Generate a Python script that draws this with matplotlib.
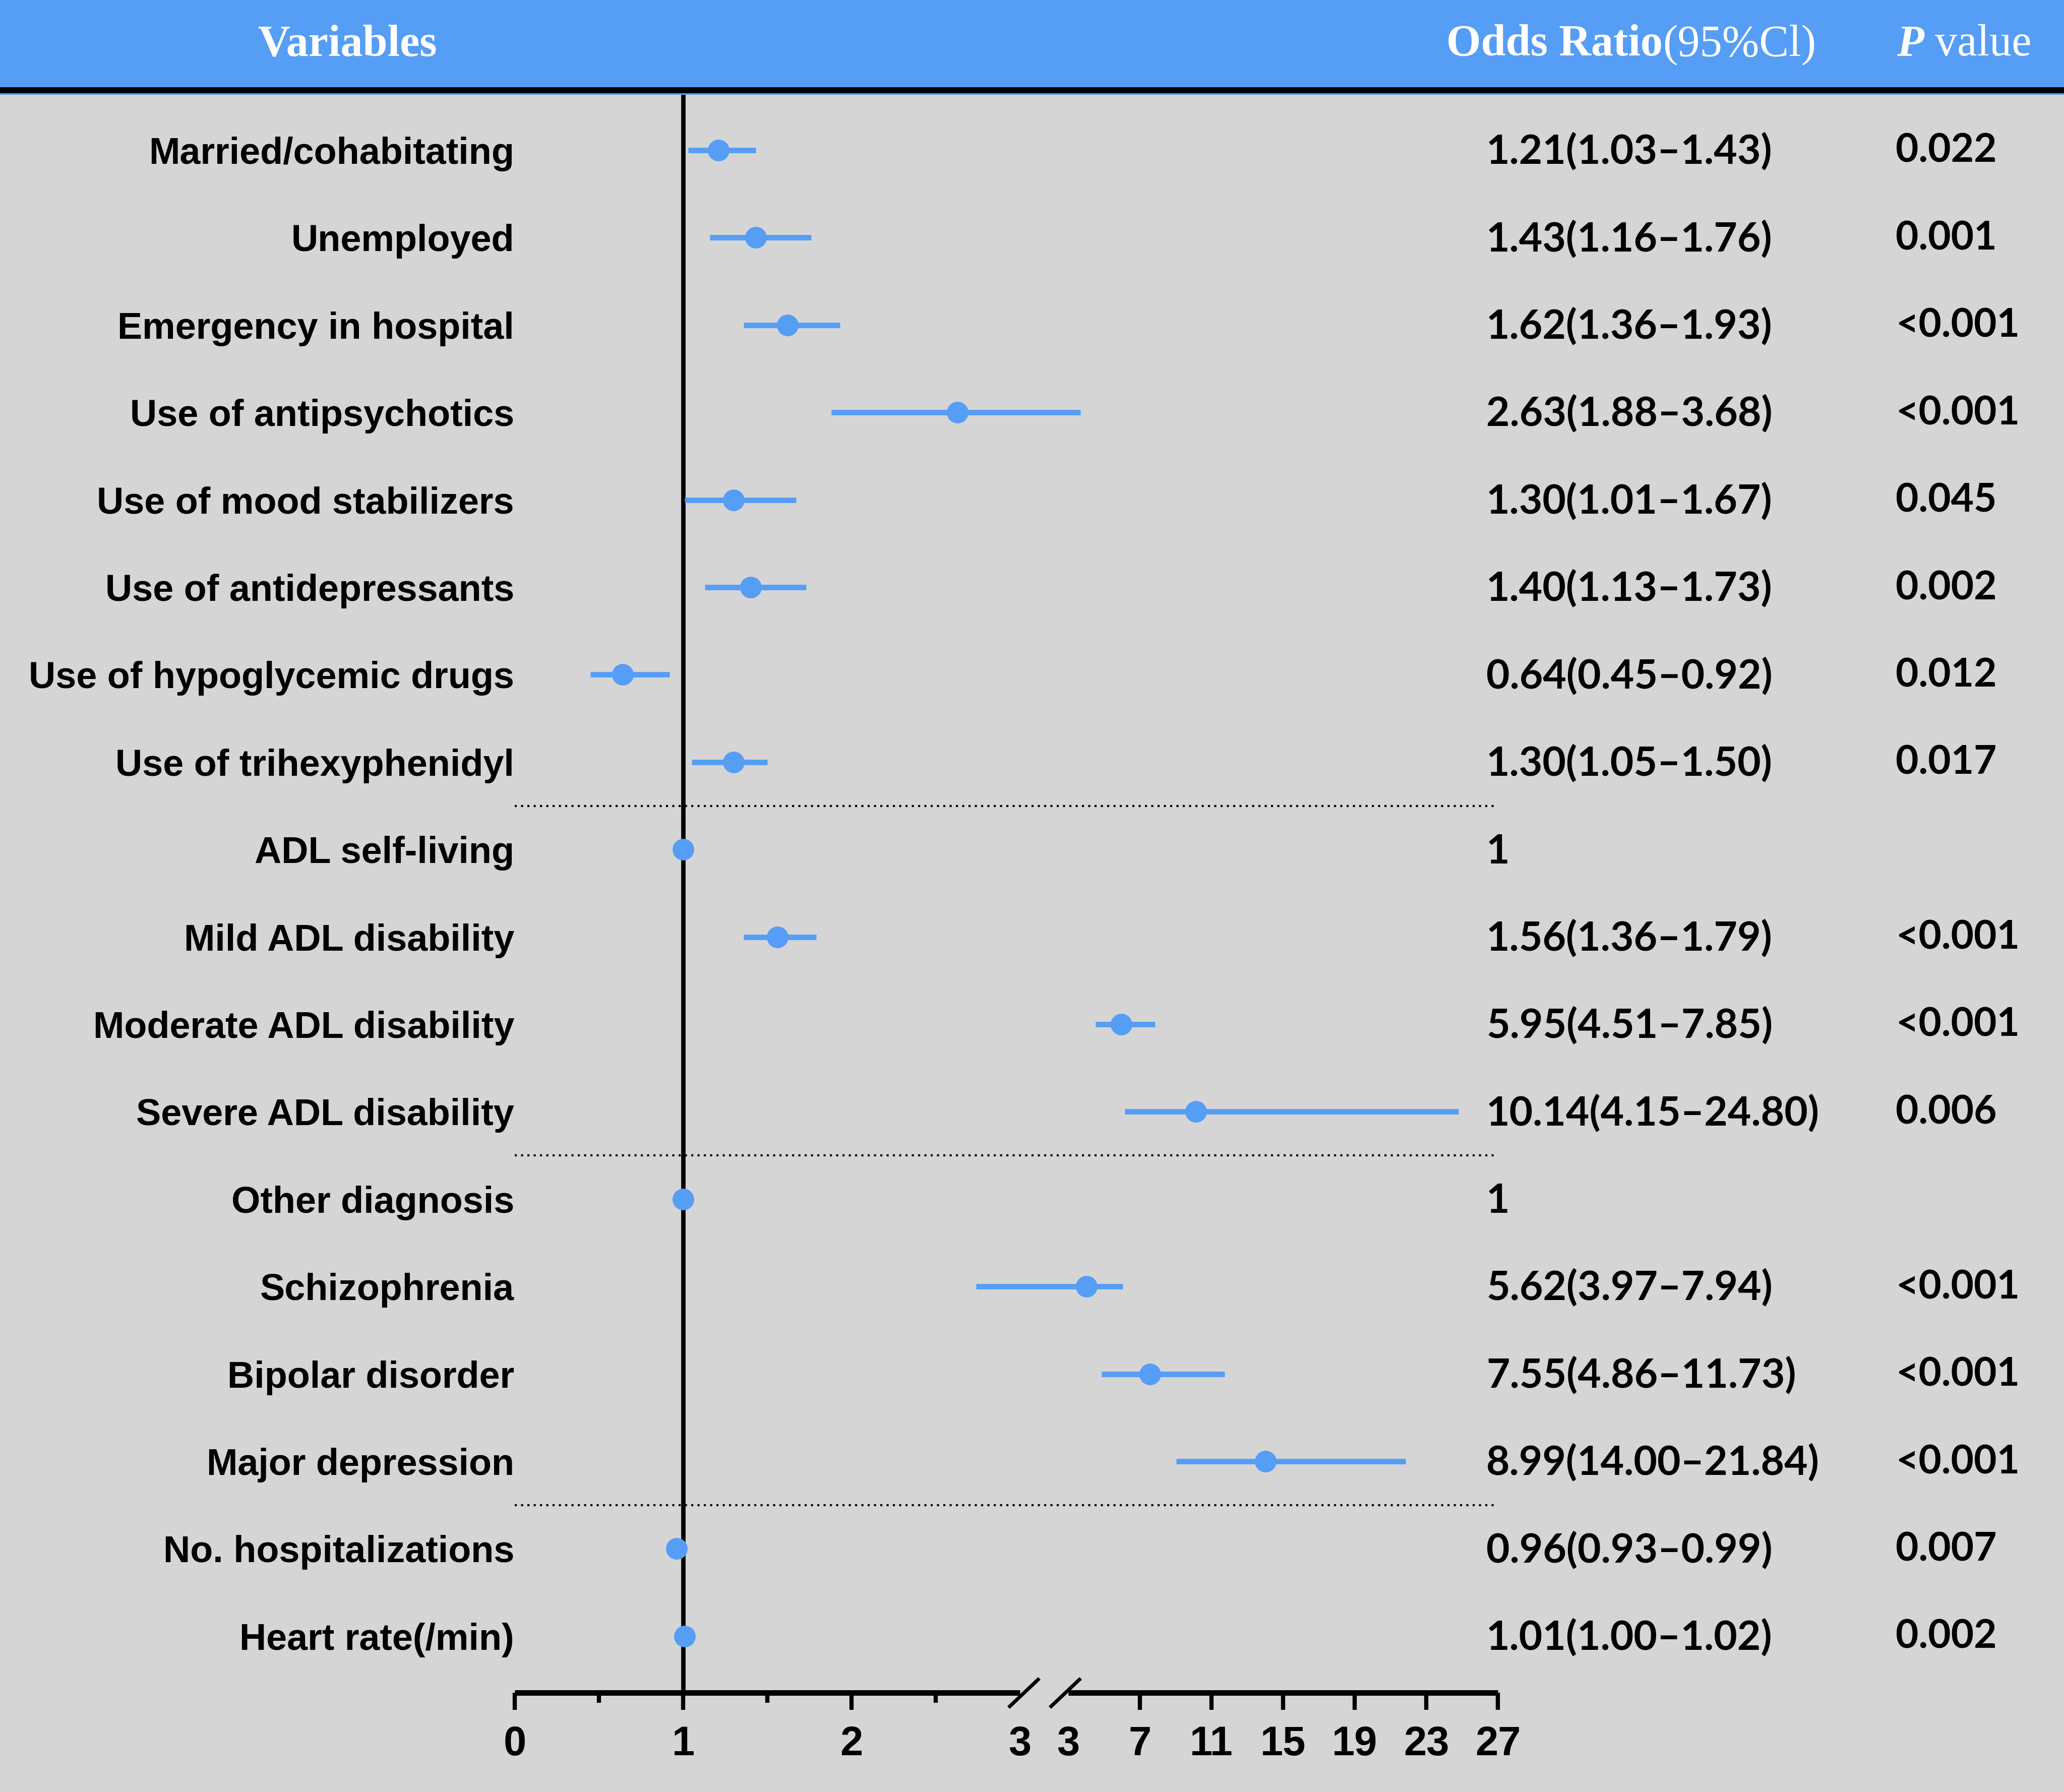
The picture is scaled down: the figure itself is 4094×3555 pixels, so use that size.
import numpy as np
import matplotlib
matplotlib.use("Agg")
import matplotlib.pyplot as plt
from matplotlib import transforms
from matplotlib.patches import Rectangle
from matplotlib.lines import Line2D

# ---------------- data ----------------
labels = ["Married/cohabitating", "Unemployed", "Emergency in hospital",
          "Use of antipsychotics", "Use of mood stabilizers", "Use of antidepressants",
          "Use of hypoglycemic drugs", "Use of trihexyphenidyl", "ADL self-living",
          "Mild ADL disability", "Moderate ADL disability", "Severe ADL disability",
          "Other diagnosis", "Schizophrenia", "Bipolar disorder", "Major depression",
          "No. hospitalizations", "Heart rate(/min)"]

or_text = ["1.21(1.03\u20131.43)", "1.43(1.16\u20131.76)", "1.62(1.36\u20131.93)",
           "2.63(1.88\u20133.68)", "1.30(1.01\u20131.67)", "1.40(1.13\u20131.73)",
           "0.64(0.45\u20130.92)", "1.30(1.05\u20131.50)", "1",
           "1.56(1.36\u20131.79)", "5.95(4.51\u20137.85)", "10.14(4.15\u201324.80)",
           "1", "5.62(3.97\u20137.94)", "7.55(4.86\u201311.73)",
           "8.99(14.00\u201321.84)", "0.96(0.93\u20130.99)", "1.01(1.00\u20131.02)"]

p_text = ["0.022", "0.001", "<0.001", "<0.001", "0.045", "0.002", "0.012", "0.017", "",
          "<0.001", "<0.001", "0.006", "", "<0.001", "<0.001", "<0.001", "0.007", "0.002"]

# plotted positions as drawn in the figure
est = [1.21, 1.43, 1.62, 2.63, 1.30, 1.40, 0.64, 1.30, 1.00,
       1.56, 5.95, 10.14, 1.00, 4.01, 7.55, 14.00, 0.96, 1.01]
ci_lo = [1.03, 1.16, 1.36, 1.88, 1.01, 1.13, 0.45, 1.05, np.nan,
         1.36, 4.51, 6.15, np.nan, 2.74, 4.86, 9.03, np.nan, np.nan]
ci_hi = [1.43, 1.76, 1.93, 3.68, 1.67, 1.73, 0.92, 1.50, np.nan,
         1.79, 7.85, 24.80, np.nan, 6.04, 11.73, 21.84, np.nan, np.nan]

separators = [7.5, 11.5, 15.5]
left_ticks = [0, 1, 2, 3]
left_minor = [0.5, 1.5, 2.5]
right_ticks = [3, 7, 11, 15, 19, 23, 27]

# ---------------- style ----------------
BG = "#d5d5d5"
BLUE = "#569df5"
W, H, DPI = 4094, 3555, 300
plt.rcParams['font.family'] = ['Liberation Sans', 'DejaVu Sans']

fig = plt.figure(figsize=(W / DPI, H / DPI), dpi=DPI, facecolor=BG)

# broken-axis scale: linear 0..3, gap, compressed 3..27
PPU = 334.0            # px per unit on left segment
GAP = 96.0 / PPU       # gap in left-units
K = 35.5 / PPU         # compression of right segment


def fwd(v):
    v = np.asarray(v, dtype=float)
    return np.where(v <= 3, v, 3 + GAP + (v - 3) * K)


def inv(u):
    u = np.asarray(u, dtype=float)
    return np.where(u <= 3, u, np.where(u < 3 + GAP, 3.0, 3 + (u - 3 - GAP) / K))


X0 = 1021.0
XR = X0 + float(fwd(27)) * PPU
Y_TOP, Y_AX = 188.0, 3358.0
ROW0, ROWH = 298.0, 173.4

ax = fig.add_axes([X0 / W, 1 - Y_AX / H, (XR - X0) / W, (Y_AX - Y_TOP) / H])
ax.set_xscale('function', functions=(fwd, inv))
ax.set_xlim(0, 27)
ax.set_ylim((Y_AX - ROW0) / ROWH, (Y_TOP - ROW0) / ROWH)
ax.set_axis_off()

y = np.arange(len(labels))
ax.axvline(1, color='black', lw=2.1, zorder=1)
for s in separators:
    ax.axhline(s, color='black', lw=1.0, ls=(0, (1, 2)), zorder=1)
ax.hlines(y, ci_lo, ci_hi, color=BLUE, lw=2.6, zorder=2)
ax.plot(est, y, 'o', color=BLUE, ms=10.3, mew=0, zorder=3)

# ---------------- header ----------------
fig.add_artist(Rectangle((0, 1 - 173 / H), 1, 173 / H, transform=fig.transFigure,
                         color=BLUE, lw=0))
fig.add_artist(Rectangle((0, 1 - 185 / H), 1, 12 / H, transform=fig.transFigure,
                         color='black', lw=0))
fig.add_artist(Rectangle((0, 1 - 188 / H), 1, 3 / H, transform=fig.transFigure,
                         color=BLUE, lw=0))
HY = 1 - 110 / H
serif = 'Liberation Serif'
fig.text(689 / W, HY, "Variables", color='white', family=serif, weight='bold',
         size=21.2, ha='center', va='baseline')
t1 = fig.text(2869 / W, HY, "Odds Ratio", color='white', family=serif, weight='bold',
              size=21.2, ha='left', va='baseline')
fig.add_artist(plt.Annotation("(95%Cl)", xy=(1, 0), xycoords=t1, color='white',
                              family=serif, size=21.2, ha='left', va='bottom'))
t2 = fig.text(3762 / W, HY, "P", color='white', family=serif, weight='bold',
              style='italic', size=21.2, ha='left', va='baseline')
fig.add_artist(plt.Annotation(" value", xy=(1, 0), xycoords=t2, color='white',
                              family=serif, size=21.2, ha='left', va='bottom'))

# ---------------- row texts ----------------
tr = transforms.blended_transform_factory(fig.transFigure, ax.transData)
for i in range(len(labels)):
    ax.text(1020 / W, i + 27 / ROWH, labels[i], transform=tr, ha='right', va='baseline',
            size=17.7, weight='bold', family='Liberation Sans')
    ax.text(2948 / W, i + 27.5 / ROWH, or_text[i], transform=tr, ha='left',
            va='baseline', size=19.3, weight='bold', family='Lato')
    if p_text[i]:
        ax.text(3760 / W, i + 24 / ROWH, p_text[i], transform=tr, ha='left',
                va='baseline', size=18.8, weight='bold', family='Lato')

# ---------------- broken x axis ----------------
XL3 = X0 + 3 * PPU
XR3 = X0 + (3 + GAP) * PPU
axL = fig.add_axes([X0 / W, 1 - Y_AX / H, (XL3 - X0) / W, 0.0005])
axR = fig.add_axes([XR3 / W, 1 - Y_AX / H, (XR - XR3) / W, 0.0005])
axL.set_xlim(0, 3)
axR.set_xlim(3, 27)
for a, ticks in ((axL, left_ticks), (axR, right_ticks)):
    a.patch.set_visible(False)
    for side in ('top', 'left', 'right'):
        a.spines[side].set_visible(False)
    a.spines['bottom'].set_linewidth(2.64)
    a.spines['bottom'].set_capstyle('butt')
    a.set_yticks([])
    a.set_xticks(ticks, [str(t) for t in ticks], fontweight='bold',
                 family='Liberation Sans')
    a.tick_params(axis='x', which='major', length=8.2, width=2.0, pad=7.5,
                  labelsize=19.5, direction='out')
    a.xaxis.get_major_ticks()[-1 if a is axL else 0].tick1line.set_visible(False)
axL.set_xticks(left_minor, minor=True)
axL.tick_params(axis='x', which='minor', length=4.8, width=2.0, direction='out')

# break slashes
for cx in (XL3 + 8, XR3 - 6):
    fig.add_artist(Line2D([(cx - 28) / W, (cx + 28) / W],
                          [1 - (Y_AX + 27) / H, 1 - (Y_AX - 26) / H],
                          transform=fig.transFigure, color='black', lw=1.7))

fig.savefig("out.png", dpi=DPI, facecolor=BG)
